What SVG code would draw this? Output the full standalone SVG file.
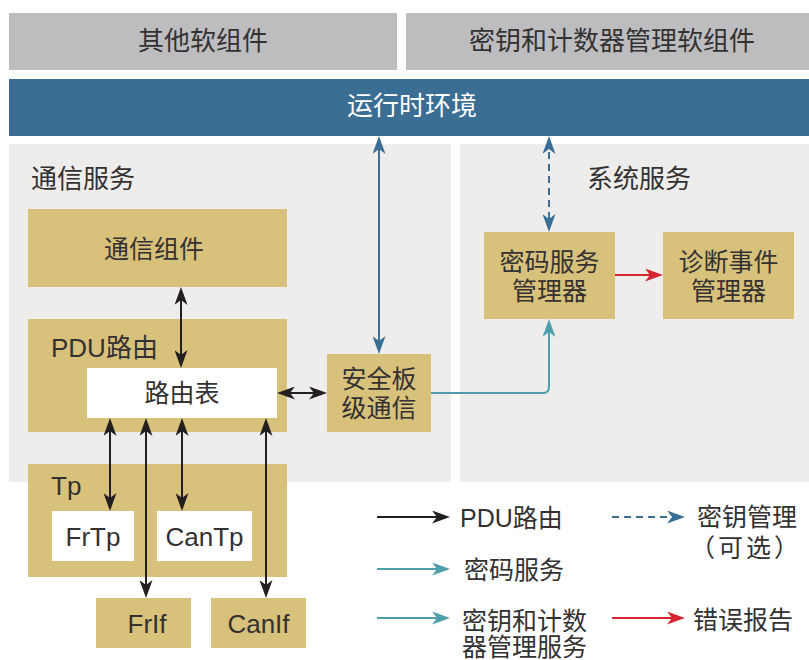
<svg xmlns="http://www.w3.org/2000/svg" width="809" height="660" viewBox="0 0 809 660">
  <style>
    text { font-family: "Liberation Sans", "Noto Sans CJK SC", sans-serif; fill: #333132; }
    .t26 { font-size: 26px; }
    .t25 { font-size: 25px; }
    .mid { text-anchor: middle; }
    .bar { fill: #bdbdc0; }
    .panel { fill: #eeedeb; }
    .node { fill: #d8c17a; }
    .inner { fill: #ffffff; }
    .ln { fill: none; stroke-width: 2; }
    .k { stroke: #231f20; }
    .b { stroke: #3b6e93; }
    .g { stroke: #4f9eab; }
    .r { stroke: #d4262e; }
  </style>
  <defs>
    <marker id="ak" viewBox="0 0 18 13" refX="14" refY="6.5" markerWidth="18" markerHeight="13" markerUnits="userSpaceOnUse" orient="auto-start-reverse">
      <path d="M0,0 L18,6.5 L0,13 L5,6.5 z" fill="#231f20"/>
    </marker>
    <marker id="ab" viewBox="0 0 18 13" refX="14" refY="6.5" markerWidth="18" markerHeight="13" markerUnits="userSpaceOnUse" orient="auto-start-reverse">
      <path d="M0,0 L18,6.5 L0,13 L5,6.5 z" fill="#3b6e93"/>
    </marker>
    <marker id="ag" viewBox="0 0 18 13" refX="14" refY="6.5" markerWidth="18" markerHeight="13" markerUnits="userSpaceOnUse" orient="auto-start-reverse">
      <path d="M0,0 L18,6.5 L0,13 L5,6.5 z" fill="#4f9eab"/>
    </marker>
    <marker id="ar" viewBox="0 0 18 13" refX="14" refY="6.5" markerWidth="18" markerHeight="13" markerUnits="userSpaceOnUse" orient="auto-start-reverse">
      <path d="M0,0 L18,6.5 L0,13 L5,6.5 z" fill="#d4262e"/>
    </marker>
  </defs>

  <!-- top layer: software components -->
  <g id="other-swc">
    <rect class="bar" x="9" y="13" width="388" height="57"/>
    <text class="t26 mid" x="203" y="50">其他软组件</text>
  </g>
  <g id="key-counter-swc">
    <rect class="bar" x="406" y="13" width="403" height="57"/>
    <text class="t26 mid" x="612" y="50">密钥和计数器管理软组件</text>
  </g>

  <!-- runtime environment -->
  <g id="rte">
    <rect x="9" y="79" width="800" height="57" fill="#3b6e93"/>
    <text class="t26 mid" x="412" y="115" style="fill:#ffffff">运行时环境</text>
  </g>

  <!-- service panels -->
  <g id="comm-services">
    <rect class="panel" x="9" y="144" width="442" height="338"/>
    <text class="t26" x="31" y="188">通信服务</text>
  </g>
  <g id="system-services">
    <rect class="panel" x="460" y="144" width="349" height="338"/>
    <text class="t26" x="587" y="188">系统服务</text>
  </g>

  <!-- communication stack -->
  <g id="com">
    <rect class="node" x="28" y="209" width="259" height="78"/>
    <text class="t25 mid" x="154" y="258">通信组件</text>
  </g>
  <g id="pdur">
    <rect class="node" x="28" y="319" width="259" height="113"/>
    <text class="t26" x="51" y="357">PDU路由</text>
  </g>
  <g id="routing-table">
    <rect class="inner" x="87" y="368" width="190" height="50"/>
    <text class="t25 mid" x="182" y="402">路由表</text>
  </g>
  <g id="secoc">
    <rect class="node" x="327" y="354" width="104" height="78"/>
    <text class="t25 mid" x="379" y="388">安全板</text>
    <text class="t25 mid" x="379" y="417">级通信</text>
  </g>
  <g id="tp">
    <rect class="node" x="28" y="464" width="259" height="113"/>
    <text class="t26" x="51" y="495">Tp</text>
  </g>
  <g id="frtp">
    <rect class="inner" x="52" y="511" width="82" height="50"/>
    <text class="t26 mid" x="93" y="546">FrTp</text>
  </g>
  <g id="cantp">
    <rect class="inner" x="157" y="511" width="95" height="50"/>
    <text class="t26 mid" x="204.5" y="546">CanTp</text>
  </g>
  <g id="frif">
    <rect class="node" x="96" y="598" width="95" height="50"/>
    <text class="t26 mid" x="147" y="633">FrIf</text>
  </g>
  <g id="canif">
    <rect class="node" x="211" y="598" width="95" height="50"/>
    <text class="t26 mid" x="258.5" y="633">CanIf</text>
  </g>

  <!-- system services -->
  <g id="csm">
    <rect class="node" x="484" y="232" width="131" height="87"/>
    <text class="t25 mid" x="549.5" y="271">密码服务</text>
    <text class="t25 mid" x="549.5" y="300">管理器</text>
  </g>
  <g id="dem">
    <rect class="node" x="663" y="232" width="131" height="87"/>
    <text class="t25 mid" x="728.5" y="271">诊断事件</text>
    <text class="t25 mid" x="728.5" y="300">管理器</text>
  </g>

  <!-- connectors -->
  <g id="connectors">
    <line class="ln k" x1="181" y1="291" x2="181" y2="364" marker-start="url(#ak)" marker-end="url(#ak)"/>
    <line class="ln k" x1="281" y1="393" x2="323" y2="393" marker-start="url(#ak)" marker-end="url(#ak)"/>
    <line class="ln k" x1="110" y1="422" x2="110" y2="507" marker-start="url(#ak)" marker-end="url(#ak)"/>
    <line class="ln k" x1="146" y1="422" x2="146" y2="594" marker-start="url(#ak)" marker-end="url(#ak)"/>
    <line class="ln k" x1="182" y1="422" x2="182" y2="507" marker-start="url(#ak)" marker-end="url(#ak)"/>
    <line class="ln k" x1="266" y1="422" x2="266" y2="594" marker-start="url(#ak)" marker-end="url(#ak)"/>
    <line class="ln b" x1="379" y1="140" x2="379" y2="350" marker-start="url(#ab)" marker-end="url(#ab)"/>
    <line class="ln b" x1="549" y1="140" x2="549" y2="228" stroke-dasharray="7 5" marker-start="url(#ab)" marker-end="url(#ab)"/>
    <path class="ln g" d="M431,393 H543 Q549,393 549,387 V323" marker-end="url(#ag)"/>
    <line class="ln r" x1="615" y1="275" x2="659" y2="275" marker-end="url(#ar)"/>
  </g>

  <!-- legend -->
  <g id="legend">
    <line class="ln k" x1="377" y1="517" x2="446" y2="517" marker-end="url(#ak)"/>
    <text class="t25" x="460" y="527">PDU路由</text>
    <line class="ln b" x1="612" y1="517" x2="681" y2="517" stroke-dasharray="7 5" marker-end="url(#ab)"/>
    <text class="t25" x="697" y="526">密钥管理</text>
    <text class="t25 mid" x="746" y="557" letter-spacing="3">（可选）</text>
    <line class="ln g" x1="377" y1="569" x2="446" y2="569" marker-end="url(#ag)"/>
    <text class="t25" x="464" y="579">密码服务</text>
    <line class="ln g" x1="377" y1="618" x2="446" y2="618" marker-end="url(#ag)"/>
    <text class="t25" x="462" y="630">密钥和计数</text>
    <text class="t25" x="462" y="656">器管理服务</text>
    <line class="ln r" x1="612" y1="618" x2="681" y2="618" marker-end="url(#ar)"/>
    <text class="t25" x="693" y="629">错误报告</text>
  </g>
</svg>
